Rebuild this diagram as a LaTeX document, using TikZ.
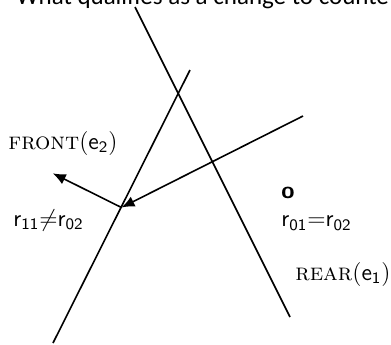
\documentclass[tikz,border=0pt]{standalone}
\usepackage{fontspec}
\usepackage{tikz}
\usetikzlibrary{arrows.meta, positioning}
\newfontfamily\titlefont{Carlito}
\tikzset{
  edgeline/.style={line width=0.8pt},
  raypath/.style={line width=0.8pt, -{Latex[length=6.5pt,width=5.5pt]}},
  lbl/.style={inner sep=0pt, font=\large}
}

\begin{document}
\begin{tikzpicture}[x=0.5pt, y=-0.5pt]
  \useasboundingbox (0,0) rectangle (391,344);

  %% ─── Title (cut off at the top) ───────────────────────────────────────────
  \node[anchor=base west, inner sep=0pt, font=\titlefont\fontsize{12.5}{15}\selectfont]
    (title) at (16,4) {What qualifies as a change to counte};

  %% ─── Edges ────────────────────────────────────────────────────────────────
  \coordinate (rearTop) at (135,7);
  \coordinate (rearBot) at (290,317);
  \coordinate (frontTop) at (190,70);
  \coordinate (frontBot) at (53,343);
  \draw[edgeline] (rearTop) -- (rearBot);
  \draw[edgeline] (frontTop) -- (frontBot);

  %% ─── Ray and its reflection ───────────────────────────────────────────────
  \coordinate (rayStart) at (303,116);
  \coordinate (hit) at (121.5,207.5);
  \coordinate (rayOut) at (52.7,173.3);
  \draw[raypath] (rayStart) -- (hit);
  \draw[raypath] (hit) -- (rayOut);

  %% ─── Labels ───────────────────────────────────────────────────────────────
  \node[lbl, anchor=base west] (frontLbl) at (8,149)
    {\textsc{front}$(\mathsf{e}_\mathsf{2})$};
  \node[lbl, anchor=base west] (neqLbl) at (13,226)
    {$\mathsf{r}_\mathsf{11}{\neq}\mathsf{r}_\mathsf{02}$};
  \node[lbl, anchor=base west, font=\large\sffamily\bfseries] (oLbl) at (281,198) {o};
  \node[lbl, anchor=base west] (eqLbl) at (281,226.5)
    {$\mathsf{r}_\mathsf{01}{=}\mathsf{r}_\mathsf{02}$};
  \node[lbl, anchor=base west] (rearLbl) at (295,280)
    {\textsc{rear}$(\mathsf{e}_\mathsf{1})$};
\end{tikzpicture}
\end{document}
